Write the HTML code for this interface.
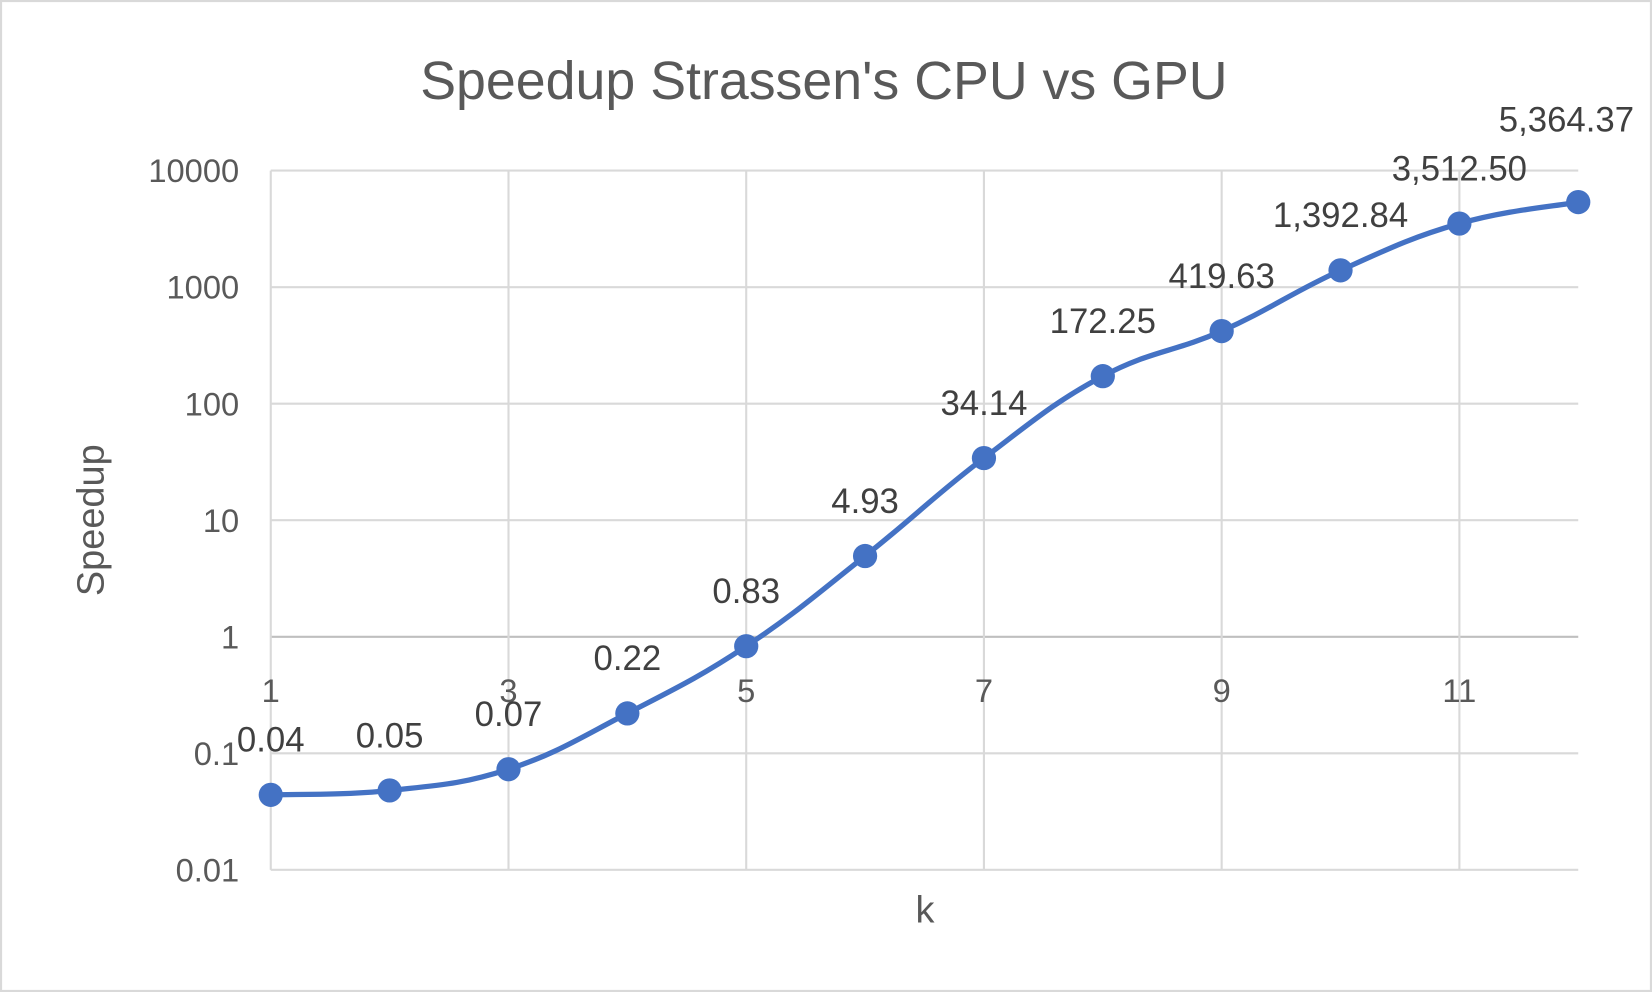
<!DOCTYPE html>
<html><head><meta charset="utf-8"><style>
html,body{margin:0;padding:0;background:#fff;}
svg{display:block;font-family:"Liberation Sans",sans-serif;}
</style></head><body>
<svg id="chart" width="1652" height="992" viewBox="0 0 1568 942" preserveAspectRatio="none" xmlns="http://www.w3.org/2000/svg">
<rect x="1" y="1" width="1566" height="940" fill="#fff" stroke="#d9d9d9" stroke-width="2"/>
<text x="782" y="94" text-anchor="middle" font-size="51" fill="#595959">Speedup Strassen's CPU vs GPU</text>
<text transform="translate(98,494) rotate(-90)" text-anchor="middle" font-size="36" fill="#595959">Speedup</text>
<text x="878" y="876" text-anchor="middle" font-size="36" fill="#595959">k</text>
<g id="grid"></g><g id="series"></g><g id="labels"></g>
</svg>
<script>
const categories=[1,2,3,4,5,6,7,8,9,10,11,12];
const speedups=[0.044,0.048,0.073,0.22,0.83,4.93,34.14,172.25,419.63,1392.84,3512.5,5364.37];
const yTicks=[0.01,0.1,1,10,100,1000,10000];
const xTicks=[1,3,5,7,9,11];
const NS="http://www.w3.org/2000/svg";
const X0=257,X1=1498,YTOP=162,YBOT=826;
function xs(k){return X0+(k-1)*(X1-X0)/11;}
function ys(v){return YBOT-(Math.log10(v)+2)*(YBOT-YTOP)/6;}
function mk(tag,a,parent){const e=document.createElementNS(NS,tag);for(const k in a)e.setAttribute(k,a[k]);parent.appendChild(e);return e;}
const grid=document.getElementById('grid'),ser=document.getElementById('series'),lab=document.getElementById('labels');
yTicks.forEach(v=>{
 const l=mk('line',{x1:X0,x2:X1,y1:ys(v),y2:ys(v),stroke:v===1?'#bfbfbf':'#d9d9d9','stroke-width':2},grid);
 
 
 const t=mk('text',{x:X0-30,y:ys(v)+11,'text-anchor':'end','font-size':31,fill:'#595959'},grid);
 t.textContent=String(v);
 
 
});
xTicks.forEach(k=>{
 const l=mk('line',{x1:xs(k),x2:xs(k),y1:YTOP,y2:YBOT,stroke:'#d9d9d9','stroke-width':2},grid);
 
 
 const t=mk('text',{x:xs(k),y:ys(1)+62,'text-anchor':'middle','font-size':31,fill:'#595959'},grid);
 t.textContent=String(k);
 
 
});
const pts=categories.map((k,i)=>[xs(k),ys(speedups[i])]);
let d='M'+pts[0][0]+','+pts[0][1];
for(let i=0;i<pts.length-1;i++){
 const p0=pts[Math.max(0,i-1)],p1=pts[i],p2=pts[i+1],p3=pts[Math.min(pts.length-1,i+2)];
 const t=0.2;
 d+=' C'+(p1[0]+(p2[0]-p0[0])*t)+','+(p1[1]+(p2[1]-p0[1])*t)+' '+(p2[0]-(p3[0]-p1[0])*t)+','+(p2[1]-(p3[1]-p1[1])*t)+' '+p2[0]+','+p2[1];
}
const line=mk('path',{d:d,fill:'none',stroke:'#4472c4','stroke-width':5},ser);


pts.forEach((p,i)=>{
 const c=mk('circle',{cx:p[0],cy:p[1],r:11.5,fill:'#4472c4'},ser);
 
 
 const last=i===pts.length-1;
 const t=mk('text',{x:last?1551:p[0],y:p[1]-(last?67:41),'text-anchor':last?'end':'middle','font-size':33,fill:'#404040'},lab);
 t.textContent=speedups[i].toLocaleString('en-US',{minimumFractionDigits:2,maximumFractionDigits:2});
 
 
});
</script>
</body></html>
